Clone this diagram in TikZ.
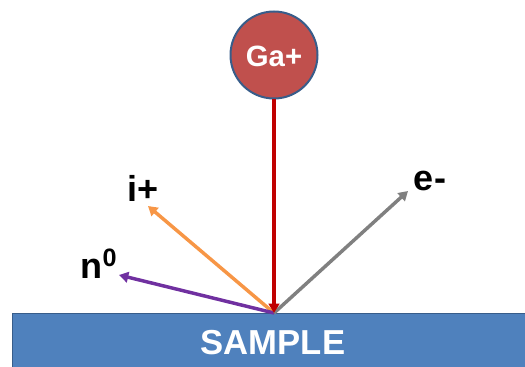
\documentclass[tikz,border=0pt]{standalone}
\usepackage{fontspec}
\setmainfont{Liberation Sans}
\usetikzlibrary{arrows.meta}
\definecolor{gafill}{HTML}{C0504D}
\definecolor{edgeblue}{HTML}{385D8A}
\definecolor{samplefill}{HTML}{4F81BD}
\definecolor{beamred}{HTML}{C00000}
\definecolor{ionorange}{HTML}{F79646}
\definecolor{neutpurple}{HTML}{7030A0}
\definecolor{elecgray}{HTML}{808080}
\tikzset{
  ray/.style={line width=2.6pt, -{Triangle[length=7pt,width=8pt]}},
  lbl/.style={font=\fontsize{27}{30}\selectfont\bfseries, text=black, inner sep=0pt}
}
\begin{document}
\begin{tikzpicture}[x=0.75pt,y=-0.75pt]
\useasboundingbox (0,0) rectangle (525,367);
\node[draw=edgeblue, fill=samplefill, line width=1pt, rectangle, minimum width=518*0.75pt, minimum height=60*0.75pt, anchor=north west, inner sep=0pt] (sample) at (12,313) {};
\node[text=white, font=\fontsize{26}{30}\selectfont\bfseries, inner sep=0pt] (sampletxt) at (273,343) {SAMPLE};
\node[draw=edgeblue, fill=gafill, line width=1.5pt, circle, minimum size=87*0.75pt, inner sep=0pt] (ga) at (274,55) {};
\node[text=white, font=\fontsize{22}{26}\selectfont\bfseries, inner sep=0pt] (gatxt) at (274,56) {Ga+};
\coordinate (hit) at (274,313);
\coordinate (itip) at (148,206);
\coordinate (ntip) at (119,275);
\coordinate (etip) at (408,191);
\draw[ray, draw=ionorange, fill=ionorange] (hit) -- (itip);
\draw[ray, draw=neutpurple, fill=neutpurple] (hit) -- (ntip);
\draw[ray, draw=elecgray, fill=elecgray] (hit) -- (etip);
\draw[ray, draw=beamred, fill=beamred] (ga.south) -- (hit);
\node[lbl] (ilbl) at (143,188) {i+};
\node[lbl] (nlbl) at (99,264) {n\textsuperscript{0}};
\node[lbl] (elbl) at (430,181) {e-};
\end{tikzpicture}
\end{document}
